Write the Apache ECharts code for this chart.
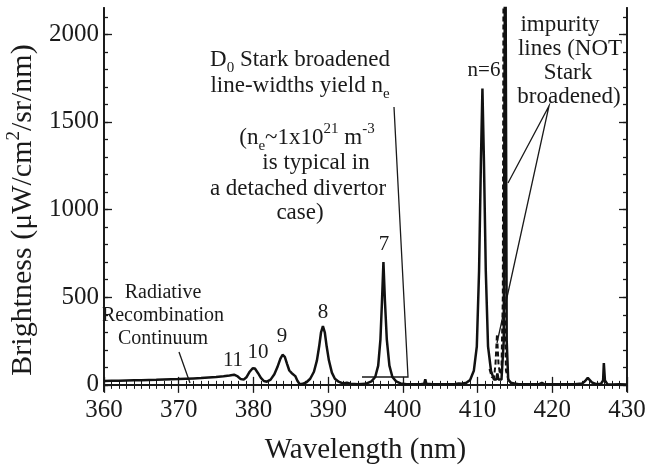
<!DOCTYPE html>
<html><head><meta charset="utf-8">
<script src="https://cdn.jsdelivr.net/npm/echarts@6/dist/echarts.min.js"></script>
<style>html,body{margin:0;padding:0;background:#fff}#c{width:653px;height:470px}</style>
</head><body><div id="c"></div>
<script>
// Solid spectrum (wavelength nm, brightness)
const lambdaSolid = [360.0,361.0,362.0,363.0,364.0,365.0,366.0,367.0,368.0,369.0,370.0,371.0,372.0,373.0,374.0,375.0,376.0,376.8,377.4,377.9,378.3,378.7,379.1,379.5,379.9,380.2,380.6,381.0,381.4,381.8,382.3,382.8,383.2,383.6,383.9,384.2,384.5,384.8,385.1,385.35,385.6,385.9,386.2,386.6,387.1,387.6,388.1,388.5,388.8,389.05,389.3,389.55,389.8,390.1,390.5,390.9,391.4,392.0,392.5,393.0,394.0,395.0,395.8,396.3,396.7,397.0,397.2,397.4,397.6,397.85,398.2,398.6,399.1,399.7,400.5,401.5,402.5,402.85,403.0,403.15,404.0,405.0,406.0,407.0,407.5,407.7,407.9,408.5,409.0,409.5,409.9,410.2,410.45,410.65,410.85,411.1,411.4,411.8,412.2,412.5,412.65,412.8,413.2,413.5,413.7,413.9,414.1,414.5,415.5,416.5,417.5,418.3,418.6,418.9,420.0,421.0,422.0,423.0,424.0,424.4,424.75,425.0,425.3,425.8,426.5,426.8,426.9,427.05,427.4,428.0,429.0,430.0];
const brightSolid = [22,23,24,25,26,27,28,29,31,32,33,35,37,39,42,45,49,54,58,48,33,30,45,75,95,93,68,40,22,18,30,60,100,148,172,160,120,82,68,68,50,22,4,6,15,35,75,140,220,300,335,300,220,140,70,35,18,8,12,6,4,6,20,45,110,260,470,700,480,260,110,45,20,8,4,4,5,6,32,6,3,3,4,5,8,18,7,12,28,80,220,650,1280,1690,1280,650,220,80,30,30,65,30,30,250,3000,250,30,10,4,3,3,4,12,4,3,4,3,4,8,22,40,38,14,5,5,25,124,25,3,2,3,2];
// Dashed spectrum (impurity lines region)
const lambdaDashed = [411.6,411.9,412.2,412.4,412.6,412.8,413.0,413.2,413.38,413.5,413.62,413.8,414.2,414.8];
const brightDashed = [90,45,40,120,290,120,60,90,500,3000,500,80,20,8];
// Axis ticks
const yMajorTicks = [0,500,1000,1500,2000];
const yMinorTicks = [0,100,200,300,400,500,600,700,800,900,1000,1100,1200,1300,1400,1500,1600,1700,1800,1900,2000,2100];
const xRange = [360,430];
const yRange = [-35,2150];

const FONT = 'Liberation Serif';
const INK = '#1a1a1a';
const chart = echarts.init(document.getElementById('c'), null, {renderer:'canvas'});

const solidData = lambdaSolid.map((x,i)=>[x, brightSolid[i]]);
const dashedData = lambdaDashed.map((x,i)=>[x, brightDashed[i]]);

const axLine = {show:true, lineStyle:{color:INK, width:1.8}};
function xAx(pos, showLabel){
  return {type:'value', position:pos, min:xRange[0], max:xRange[1], interval:10,
    axisLine:axLine, splitLine:{show:false},
    axisTick:{show:true, inside:true, length:8, lineStyle:{color:INK, width:1.3}},
    minorTick:{show:true, splitNumber:10, length:4, lineStyle:{color:INK, width:1}},
    axisLabel:{show:showLabel, margin:7, fontFamily:FONT, fontSize:25, color:INK, formatter:v=>String(v)},
    name: showLabel ? 'Wavelength (nm)' : '', nameLocation:'middle', nameGap:45,
    nameTextStyle:{fontFamily:FONT, fontSize:29, color:INK}};
}
function yAx(pos, ticks, len, showLabel){
  return {type:'value', position:pos, min:yRange[0], max:yRange[1],
    axisLine:axLine, splitLine:{show:false},
    axisTick:{show:true, inside:true, length:len, customValues:ticks, lineStyle:{color:INK, width:1.3}},
    axisLabel:{show:showLabel, customValues:ticks, margin:5, fontFamily:FONT, fontSize:25, color:INK, formatter:v=>String(v)}};
}

function txt(x, y, text, size, rich, rot){
  const o = {type:'text', x:x, y:y, style:{text:text, fontFamily:FONT, fontSize:size, fill:INK,
    align:'center', verticalAlign:'middle', rich:rich||undefined}};
  if (rot) o.rotation = rot;
  return o;
}
const R = 23;
const richSub = {t:{fontFamily:FONT, fontSize:R, fill:INK, lineHeight:32, verticalAlign:'middle'},
                 s:{fontFamily:FONT, fontSize:15, fill:INK, lineHeight:12, verticalAlign:'bottom'},
                 p:{fontFamily:FONT, fontSize:15, fill:INK, lineHeight:12, verticalAlign:'top'}};
const richTitle = {t:{fontFamily:FONT, fontSize:30, fill:INK, lineHeight:36, verticalAlign:'middle'},
                   p:{fontFamily:FONT, fontSize:19, fill:INK, lineHeight:14, verticalAlign:'top'}};
const lineStyle = {stroke:INK, lineWidth:1.3, fill:null};

chart.setOption({
  animation:false,
  backgroundColor:'#fff',
  grid:{left:104, right:26, top:8, bottom:75, containLabel:false},
  xAxis:[xAx('bottom', true), xAx('top', false)],
  yAxis:[
    yAx('left', yMajorTicks, 8, true),
    yAx('left', yMinorTicks, 4, false),
    yAx('right', yMajorTicks, 8, false),
    yAx('right', yMinorTicks, 4, false)
  ],
  series:[
    {type:'line', data:solidData, xAxisIndex:0, yAxisIndex:0, showSymbol:false, symbol:'none',
     lineStyle:{color:'#111', width:2.5}, clip:true, z:3},
    {type:'line', data:dashedData, xAxisIndex:0, yAxisIndex:0, showSymbol:false, symbol:'none',
     lineStyle:{color:'#111', width:2, type:[5,3]}, clip:true, z:2}
  ],
  graphic:[
    txt(23, 210, '{t|Brightness (μW/cm}{p|2}{t|/sr/nm)}', 30, richTitle, Math.PI/2),
    txt(163, 293, 'Radiative', 20),
    txt(163, 316, 'Recombination', 20),
    txt(163, 339, 'Continuum', 20),
    {type:'polyline', shape:{points:[[179,352],[190,383]]}, style:lineStyle},
    txt(233, 360, '11', 21),
    txt(258, 352, '10', 21),
    txt(282, 336, '9', 21),
    txt(323, 312, '8', 21),
    txt(384, 244, '7', 21),
    txt(484, 70, 'n=6', 21),
    txt(300, 60, '{t|D}{s|0}{t| Stark broadened}', R, richSub),
    txt(300, 86, '{t|line-widths yield n}{s|e}', R, richSub),
    txt(307, 138, '{t|(n}{s|e}{t|~1x10}{p|21}{t| m}{p|-3}', R, richSub),
    txt(316, 163, 'is typical in', R),
    txt(298, 189, 'a detached divertor', R),
    txt(300, 213, 'case)', R),
    {type:'polyline', shape:{points:[[394,107],[408,377],[362,377]]}, style:lineStyle},
    txt(560, 25, 'impurity', R),
    txt(570, 49, 'lines (NOT', R),
    txt(568, 73, 'Stark', R),
    txt(569, 97, 'broadened)', R),
    {type:'polyline', shape:{points:[[508,183],[549,106],[497,343]]}, style:lineStyle}
  ]
});
</script></body></html>
